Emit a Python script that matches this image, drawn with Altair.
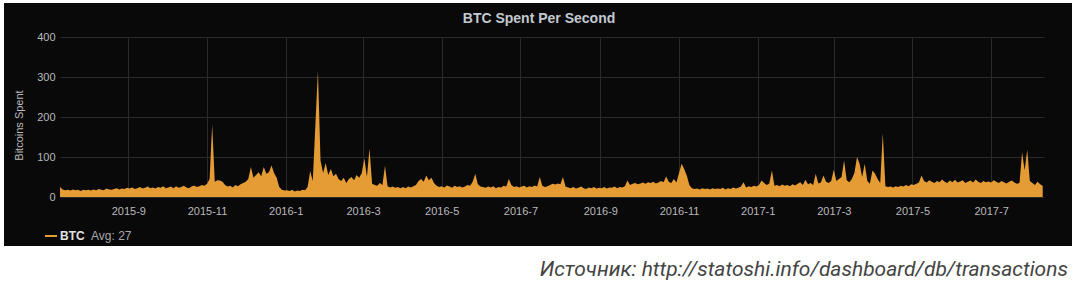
import altair as alt
import pandas as pd

# ---- data (2-day samples) ----
START_DATE = "2015-07-10"
jul15 = [25, 19, 17, 18, 16, 19, 17, 18, 15, 18, 17]
aug15 = [18, 16, 19, 17, 20, 18, 17, 21, 19, 18, 20, 22, 19, 21, 20, 23]
sep15 = [21, 24, 20, 22, 25, 21, 23, 26, 22, 24, 21, 25, 23, 27, 22]
oct15 = [24, 26, 22, 27, 23, 25, 28, 24, 22, 26, 29, 25, 27, 30, 28]
nov15 = [33, 45, 181, 38, 42, 41, 38, 30, 26, 28, 24, 30, 27, 32, 35]
dec15 = [38, 45, 75, 48, 55, 62, 52, 75, 58, 62, 79, 60, 48, 25, 18, 16]
jan16 = [17, 15, 18, 14, 16, 15, 18, 17, 25, 65, 40, 179, 316, 91, 60]
feb16 = [85, 55, 70, 52, 58, 45, 40, 48, 35, 45, 50, 42, 55, 48, 60]
mar16 = [96, 50, 121, 33, 30, 28, 35, 30, 78, 27, 24, 26, 23, 25, 22]
apr16 = [25, 22, 26, 24, 27, 30, 40, 45, 38, 54, 42, 48, 35, 28, 25]
may16 = [27, 24, 29, 26, 23, 28, 25, 27, 24, 26, 30, 28, 38, 58, 32, 26]
jun16 = [25, 23, 26, 24, 27, 22, 25, 24, 28, 26, 45, 30, 25, 27, 24]
jul16 = [26, 28, 24, 27, 25, 29, 26, 50, 28, 25, 27, 30, 33, 31, 34]
aug16 = [32, 50, 26, 24, 22, 25, 21, 23, 26, 22, 20, 24, 22, 25, 21, 23]
sep16 = [22, 25, 21, 24, 23, 26, 22, 25, 24, 27, 41, 30, 33, 35, 32]
oct16 = [34, 36, 33, 37, 35, 38, 34, 36, 40, 37, 51, 38, 35, 45, 36]
nov16 = [60, 83, 70, 54, 30, 22, 20, 21, 19, 22, 20, 21, 19, 22, 20]
dec16 = [21, 20, 23, 19, 22, 20, 24, 21, 23, 26, 37, 24, 27, 25, 28, 26]
jan17 = [30, 41, 35, 30, 34, 66, 28, 30, 27, 31, 28, 30, 27, 32, 29]
feb17 = [33, 37, 30, 43, 32, 35, 30, 58, 34, 36, 54, 38, 35, 40]
mar17 = [68, 40, 45, 50, 91, 42, 37, 45, 60, 100, 83, 50, 83, 40, 33, 66]
apr17 = [58, 45, 35, 160, 27, 25, 26, 24, 27, 25, 28, 26, 30, 27, 32]
may17 = [30, 33, 36, 54, 40, 36, 42, 38, 35, 40, 37, 44, 38, 35, 41]
jun17 = [37, 43, 36, 39, 42, 35, 38, 41, 36, 44, 38, 35, 40, 37, 39]
jul17 = [36, 42, 38, 35, 40, 37, 34, 38, 41, 36, 33, 35, 112, 66, 118, 40]
aug17 = [35, 30, 38, 32, 28]

btc_values = (jul15 + aug15 + sep15 + oct15 + nov15 + dec15 + jan16 + feb16 + mar16
              + apr16 + may16 + jun16 + jul16 + aug16 + sep16 + oct16 + nov16 + dec16
              + jan17 + feb17 + mar17 + apr17 + may17 + jun17 + jul17 + aug17)
dates = pd.date_range(START_DATE, periods=len(btc_values), freq="2D")

x_tick_months = [(2015, 9), (2015, 11), (2016, 1), (2016, 3), (2016, 5), (2016, 7),
                 (2016, 9), (2016, 11), (2017, 1), (2017, 3), (2017, 5), (2017, 7)]
y_ticks = [0, 100, 200, 300, 400]

TITLE = "BTC Spent Per Second"
Y_TITLE = "Bitcoins Spent"
LEGEND_NAME = "BTC"
LEGEND_AVG = "Avg: 27"
CAPTION = "Источник: http://statoshi.info/dashboard/db/transactions"

ORANGE = "#E59C35"
PANEL_BG = "#090909"
LABEL_COLOR = "#b9b9b9"
GRID_COLOR = "#2a2a2a"
FONT = "Liberation Sans"

W, H = 984, 160
PAD_L, PAD_T, PAD_R, PAD_B = 60, 37, 32, 93

df = pd.DataFrame({"date": dates, "btc": btc_values})

x_enc = alt.X(
    "date:T",
    scale=alt.Scale(domain=[alt.DateTime(year=2015, month=7, date=10),
                            alt.DateTime(year=2017, month=8, date=11)]),
    axis=alt.Axis(
        values=[alt.DateTime(year=y, month=m, date=1) for y, m in x_tick_months],
        format="%Y-%-m", title=None, labelColor=LABEL_COLOR, labelFont=FONT,
        labelFontSize=11, tickSize=0, domain=False, grid=True,
        gridColor=GRID_COLOR, labelPadding=8,
    ),
)
y_enc = alt.Y(
    "btc:Q",
    scale=alt.Scale(domain=[0, 400]),
    axis=alt.Axis(
        values=y_ticks, title=Y_TITLE, labelColor=LABEL_COLOR, labelFont=FONT,
        labelFontSize=11, tickSize=0, domain=False, grid=True,
        gridColor=GRID_COLOR, labelPadding=5, titleColor=LABEL_COLOR,
        titleFont=FONT, titleFontSize=11, titleFontWeight="normal",
        titleX=-41, titleY=88, titleBaseline="middle", titleAlign="center",
    ),
)

area = alt.Chart(df).mark_area(color=ORANGE, opacity=1, interpolate="linear").encode(
    x=x_enc, y=y_enc
)

one = pd.DataFrame({"k": [0]})
white = "#ffffff"
bottom_white = alt.Chart(one).mark_rect(color=white).encode(
    x=alt.value(-PAD_L), x2=alt.value(W + PAD_R), y=alt.value(209), y2=alt.value(H + PAD_B)
)
left_white = alt.Chart(one).mark_rect(color=white).encode(
    x=alt.value(-PAD_L), x2=alt.value(-56), y=alt.value(-PAD_T), y2=alt.value(H + PAD_B)
)
right_white = alt.Chart(one).mark_rect(color=white).encode(
    x=alt.value(1012), x2=alt.value(W + PAD_R), y=alt.value(-PAD_T), y2=alt.value(H + PAD_B)
)
top_white = alt.Chart(one).mark_rect(color=white).encode(
    x=alt.value(-PAD_L), x2=alt.value(W + PAD_R), y=alt.value(-PAD_T), y2=alt.value(-34)
)

title_text = alt.Chart(one).mark_text(
    text=TITLE, align="center", baseline="alphabetic", color="#c3c9d1",
    font=FONT, fontSize=14, fontWeight="bold"
).encode(x=alt.value(479), y=alt.value(-14))

legend_swatch = alt.Chart(one).mark_rule(color=ORANGE, strokeWidth=2).encode(
    x=alt.value(-15), x2=alt.value(-3), y=alt.value(199)
)
legend_name = alt.Chart(one).mark_text(
    text=LEGEND_NAME, align="left", baseline="middle", color="#e2e2e2",
    font=FONT, fontSize=12, fontWeight="bold"
).encode(x=alt.value(0), y=alt.value(199))
legend_avg = alt.Chart(one).mark_text(
    text=LEGEND_AVG, align="left", baseline="middle", color="#a8a8a8",
    font=FONT, fontSize=12
).encode(x=alt.value(31), y=alt.value(199))

caption = alt.Chart(one).mark_text(
    text=CAPTION, align="right", baseline="middle", color="#444444",
    font="Roboto", fontSize=21, fontStyle="italic"
).encode(x=alt.value(1008), y=alt.value(233))

chart = alt.layer(
    area, top_white, left_white, right_white, bottom_white, title_text,
    legend_swatch, legend_name, legend_avg, caption
).properties(
    width=W, height=H,
    background=PANEL_BG,
    padding={"left": PAD_L, "top": PAD_T, "right": PAD_R, "bottom": PAD_B},
    autosize=alt.AutoSizeParams(type="none"),
).configure_view(stroke=None)

chart.save("out.html", embed_options={"renderer": "svg", "actions": False})
